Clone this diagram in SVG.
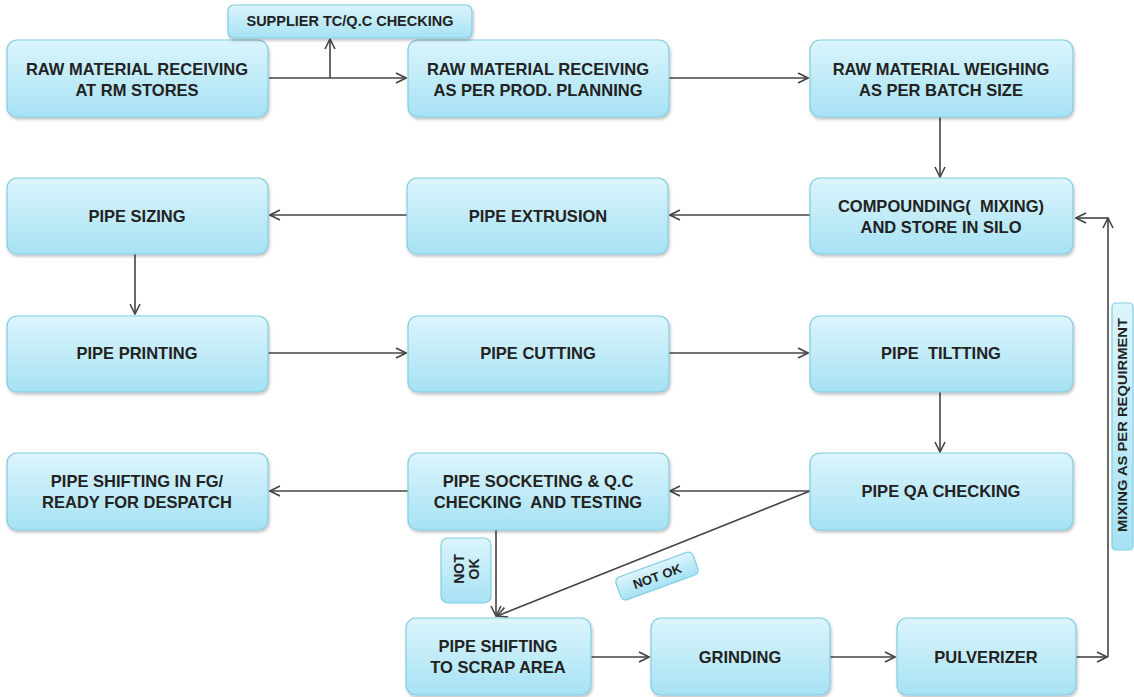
<svg xmlns="http://www.w3.org/2000/svg" width="1134" height="697" viewBox="0 0 1134 697">
<defs>
<linearGradient id="g" x1="0" y1="0" x2="0" y2="1">
<stop offset="0" stop-color="#dcf5fc"/>
<stop offset="1" stop-color="#a6e2f4"/>
</linearGradient>
<filter id="sh" x="-5%" y="-5%" width="115%" height="125%">
<feDropShadow dx="1" dy="2" stdDeviation="1.5" flood-color="#000" flood-opacity="0.25"/>
</filter>
<marker id="ar" viewBox="0 0 12 12" refX="11" refY="6" markerWidth="12" markerHeight="12" markerUnits="userSpaceOnUse" orient="auto">
<path d="M1,1 L11,6 L1,11" fill="none" stroke="#444" stroke-width="1.6"/>
</marker>
</defs>
<style>
.n rect{fill:url(#g);stroke:#82cde2;stroke-width:1.2;filter:url(#sh)}
.n text,.l text{font-family:"Liberation Sans",Arial,sans-serif;font-weight:bold;font-size:16.5px;fill:#222;text-anchor:middle}
.l rect{fill:url(#g);stroke:#82cde2;stroke-width:1.2}
.l text{font-size:13px}
.c path{fill:none;stroke:#444;stroke-width:1.6}
</style>
<rect width="1134" height="697" fill="#fff"/>
<g class="c">
<path d="M269,78 H406" marker-end="url(#ar)"/>
<path d="M330,78 V39" marker-end="url(#ar)"/>
<path d="M669,78 H808" marker-end="url(#ar)"/>
<path d="M940,117 V177" marker-end="url(#ar)"/>
<path d="M810,215 H670" marker-end="url(#ar)"/>
<path d="M407,215 H270" marker-end="url(#ar)"/>
<path d="M135,254 V314" marker-end="url(#ar)"/>
<path d="M268,353 H406" marker-end="url(#ar)"/>
<path d="M669,353 H808" marker-end="url(#ar)"/>
<path d="M940,392 V452" marker-end="url(#ar)"/>
<path d="M810,491 H670" marker-end="url(#ar)"/>
<path d="M408,491 H270" marker-end="url(#ar)"/>
<path d="M496,530 V616" marker-end="url(#ar)"/>
<path d="M810,491 L497,616" marker-end="url(#ar)"/>
<path d="M591,657 H649" marker-end="url(#ar)"/>
<path d="M830,657 H895" marker-end="url(#ar)"/>
<path d="M1076,657 H1107" marker-end="url(#ar)"/>
<path d="M1108,657 V218" marker-end="url(#ar)"/>
<path d="M1108,218 H1076" marker-end="url(#ar)"/>
</g>
<g id="n1" class="n"><rect x="7" y="40" width="261" height="77" rx="10"/><text x="137" y="75">RAW MATERIAL RECEIVING</text><text x="137" y="96">AT RM STORES</text></g>
<g id="n2" class="n"><rect x="408" y="40" width="261" height="77" rx="10"/><text x="538" y="75">RAW MATERIAL RECEIVING</text><text x="538" y="96">AS PER PROD. PLANNING</text></g>
<g id="n3" class="n"><rect x="810" y="40" width="263" height="77" rx="10"/><text x="941" y="75">RAW MATERIAL WEIGHING</text><text x="941" y="96">AS PER BATCH SIZE</text></g>
<g id="supplier" class="n"><rect x="228" y="5" width="244" height="33" rx="6"/><text x="350" y="26" style="font-size:14.5px">SUPPLIER TC/Q.C CHECKING</text></g>
<g id="n4" class="n"><rect x="810" y="178" width="263" height="76" rx="10"/><text x="941" y="212" xml:space="preserve">COMPOUNDING(  MIXING)</text><text x="941" y="233">AND STORE IN SILO</text></g>
<g id="n5" class="n"><rect x="407" y="178" width="261" height="76" rx="10"/><text x="538" y="222">PIPE EXTRUSION</text></g>
<g id="n6" class="n"><rect x="7" y="178" width="261" height="76" rx="10"/><text x="137" y="222">PIPE SIZING</text></g>
<g id="n7" class="n"><rect x="7" y="316" width="261" height="76" rx="10"/><text x="137" y="359">PIPE PRINTING</text></g>
<g id="n8" class="n"><rect x="408" y="316" width="261" height="76" rx="10"/><text x="538" y="359">PIPE CUTTING</text></g>
<g id="n9" class="n"><rect x="810" y="316" width="263" height="76" rx="10"/><text x="941" y="359" xml:space="preserve">PIPE  TILTTING</text></g>
<g id="n10" class="n"><rect x="810" y="453" width="263" height="77" rx="10"/><text x="941" y="497">PIPE QA CHECKING</text></g>
<g id="n11" class="n"><rect x="408" y="453" width="261" height="77" rx="10"/><text x="538" y="487">PIPE SOCKETING &amp; Q.C</text><text x="538" y="508" xml:space="preserve">CHECKING  AND TESTING</text></g>
<g id="n12" class="n"><rect x="7" y="453" width="261" height="77" rx="10"/><text x="137" y="487">PIPE SHIFTING IN FG/</text><text x="137" y="508">READY FOR DESPATCH</text></g>
<g id="n13" class="n"><rect x="406" y="618" width="185" height="77" rx="10"/><text x="498" y="652">PIPE SHIFTING</text><text x="498" y="673">TO SCRAP AREA</text></g>
<g id="n14" class="n"><rect x="651" y="618" width="179" height="77" rx="10"/><text x="740" y="663">GRINDING</text></g>
<g id="n15" class="n"><rect x="897" y="618" width="179" height="77" rx="10"/><text x="986" y="663">PULVERIZER</text></g>
<g id="lbl1" class="l"><rect x="441" y="538" width="50" height="65" rx="7"/><text transform="translate(466,569) rotate(-90)" style="font-size:14px"><tspan x="0" y="-2">NOT</tspan><tspan x="0" y="13">OK</tspan></text></g>
<g id="lbl2" class="l" transform="translate(657,576) rotate(-20)"><rect x="-41" y="-12" width="82" height="24" rx="5"/><text x="0" y="5">NOT OK</text></g>
<g id="lbl3" class="l"><rect x="1112" y="303" width="21" height="247" rx="4"/><text transform="translate(1127,425) rotate(-90)" style="font-size:12.5px" textLength="214" lengthAdjust="spacingAndGlyphs">MIXING AS PER REQUIRMENT</text></g>
</svg>
